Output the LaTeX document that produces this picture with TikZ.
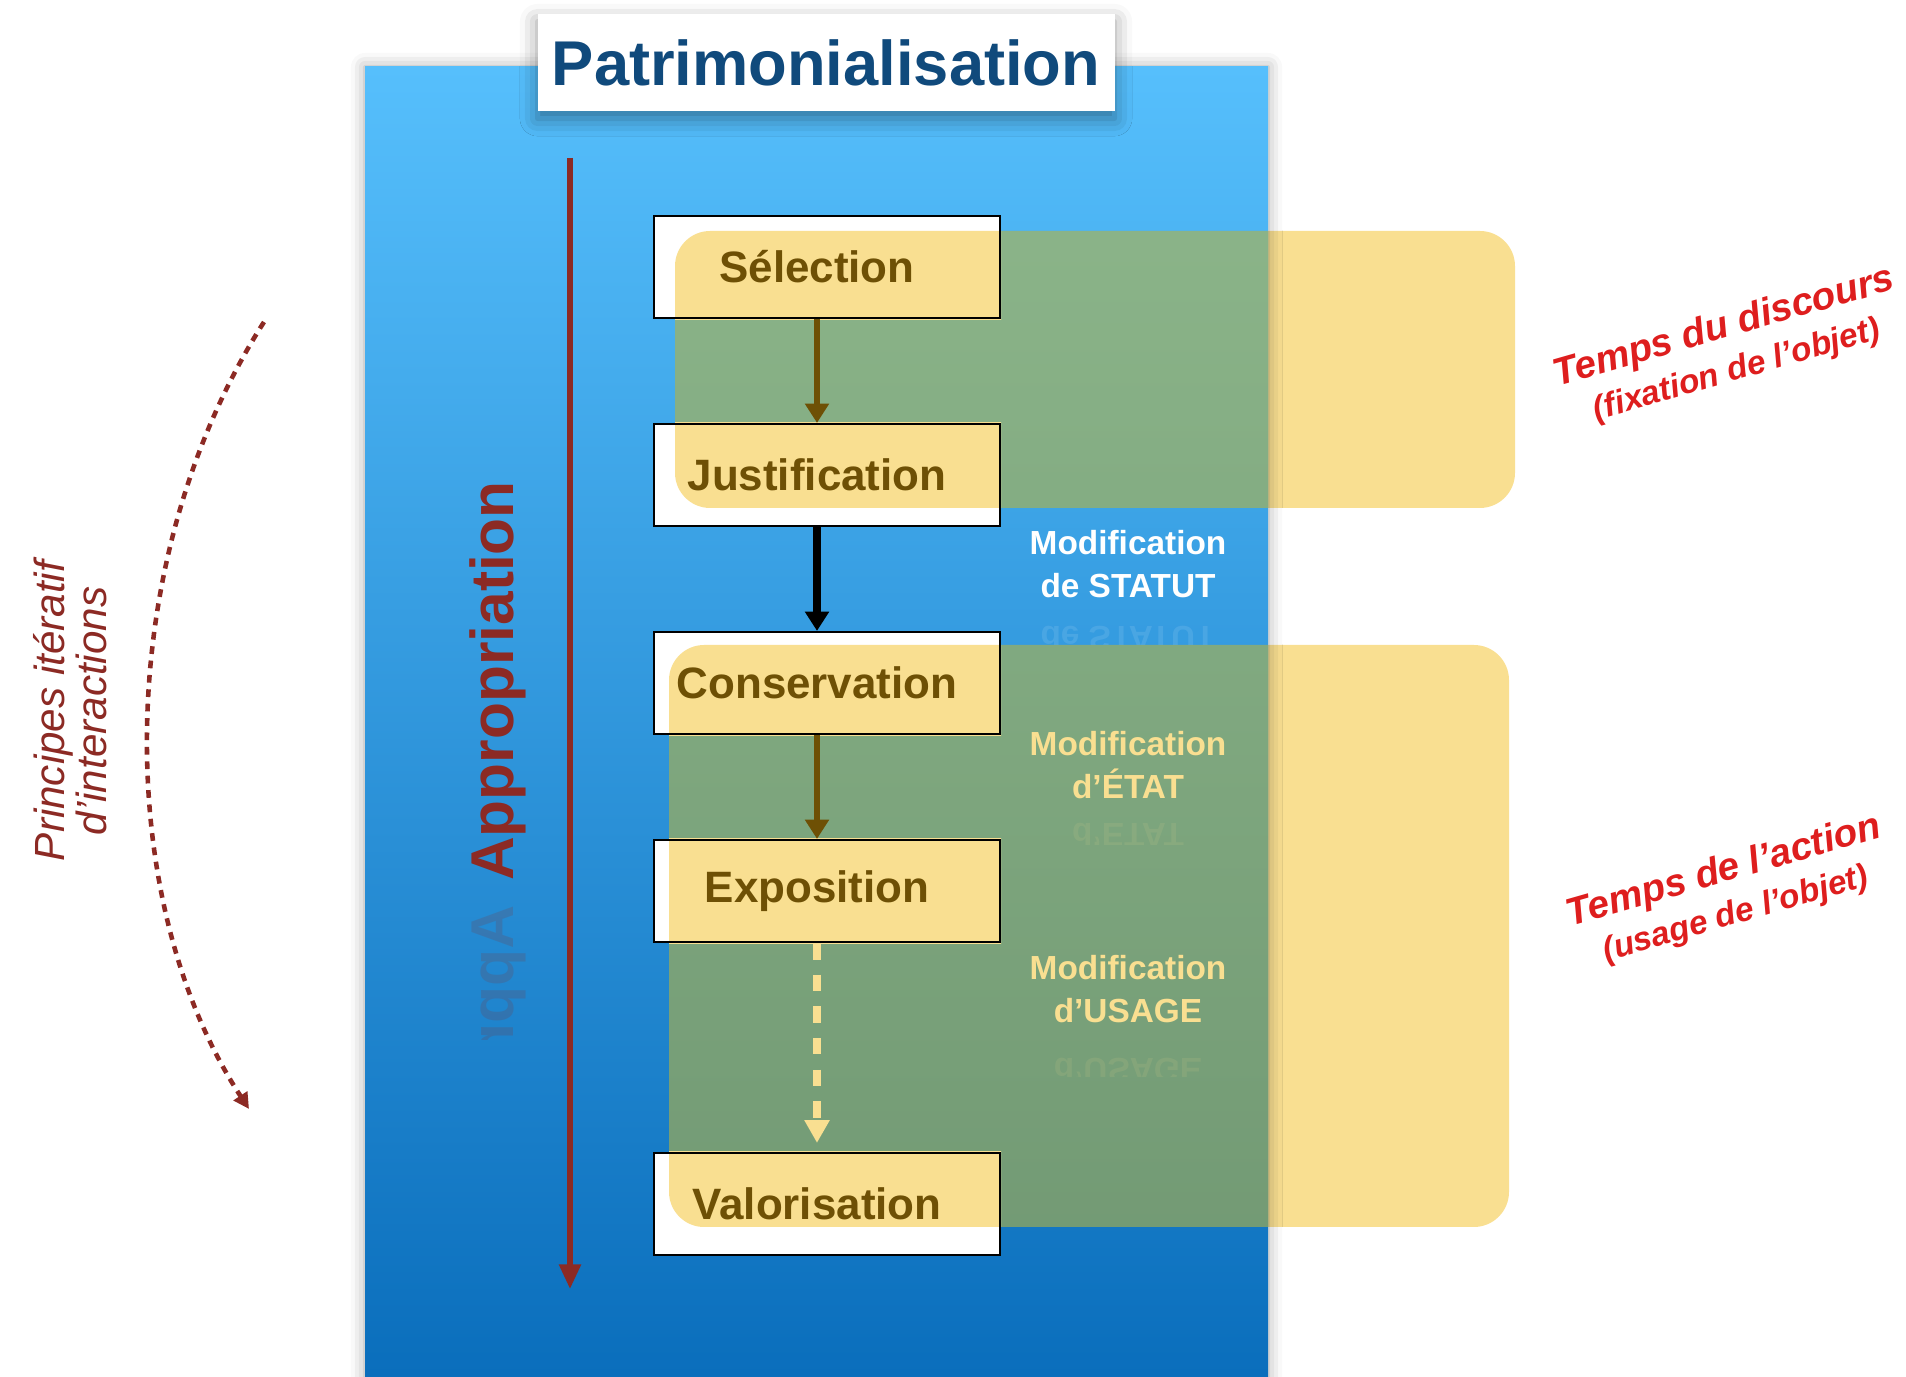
\documentclass[tikz,border=0pt]{standalone}
\usepackage{fontspec}
\setmainfont{Liberation Sans}
\usetikzlibrary{arrows.meta,positioning,shadows.blur}
\definecolor{panelTop}{RGB}{86,191,252}
\definecolor{panelBot}{RGB}{10,110,188}
\definecolor{sand}{RGB}{249,223,145}
\definecolor{moss}{RGB}{180,179,65}
\definecolor{umber}{RGB}{110,80,5}
\definecolor{rust}{RGB}{140,42,36}
\definecolor{titleblue}{RGB}{16,74,124}
\definecolor{alert}{RGB}{222,30,30}
\pgfdeclarelayer{background}
\pgfsetlayers{background,main}
\tikzset{%
    stepbox/.style={%
        rectangle, draw=black, line width=0.6pt, minimum width=34.6mm, minimum height=10.2mm,
        text=umber, font=\fontsize{12.5}{12.5}\selectfont\bfseries
    },
    titlebox/.style={%
        rectangle, fill=white, minimum width=57.7mm, minimum height=9.7mm, text=titleblue,
        font=\fontsize{18}{18}\selectfont\bfseries,
        blur shadow={shadow xshift=0pt, shadow yshift=-2pt, shadow blur radius=5pt, shadow opacity=40}
    },
    modif/.style={%
        align=center, font=\fontsize{9.5}{12}\selectfont\bfseries
    },
    flow/.style={%
        -{Triangle[length=5.5pt,width=6.6pt]}, line width=1.8pt, draw=umber
    },
    phase/.style={%
        text=alert, rotate=16, font=\fontsize{11}{11}\selectfont\bfseries\itshape
    },
    phasenote/.style={%
        text=alert, rotate=16, font=\fontsize{9.5}{9.5}\selectfont\bfseries\itshape
    },
    zone/.style={%
        rounded corners=10pt
    },
}
\begin{document}
\begin{tikzpicture}[x=0.1mm,y=-0.1mm]
  \useasboundingbox (0,0) rectangle (1906,1377);

  % etapes
  \foreach \name/\y/\txt in {sel/267/Sélection,jus/475/Justification,con/683/Conservation,exp/891/Exposition,val/1204/Valorisation}
    \node[stepbox] (\name) at (827,\y) {\txt\kern2mm};

  \draw[flow] ([xshift=-1mm]sel.south) -- ([xshift=-1mm]jus.north);
  \draw[flow, draw=black, line width=2pt] ([xshift=-1mm]jus.south) -- ([xshift=-1mm]con.north);
  \draw[flow] ([xshift=-1mm]con.south) -- ([xshift=-1mm]exp.north);
  \draw[flow, draw=sand, line width=2.2pt, dash pattern=on 4.7pt off 4.3pt, shorten >=0.9mm,
    -{Triangle[length=6.5pt,width=6.8pt]}] ([xshift=-1mm]exp.south) -- ([xshift=-1mm]val.north);

  \node[titlebox] (titre) at (826,63) {Patrimonialisation};

  % modifications
  \node[modif, text=white] (statut) at (1128,564) {Modification\\de STATUT};
  \node[modif, text=sand] (etat) at (1128,765) {Modification\\d’ÉTAT};
  \node[modif, text=sand] (usage) at (1128,989) {Modification\\d’USAGE};
  \begin{scope}[opacity=0.1]
    \clip (1030,620) rectangle (1230,645);
    \node[modif, text=white, yscale=-1] at (1128,638) {de STATUT};
  \end{scope}
  \begin{scope}[opacity=0.1]
    \clip (1030,822) rectangle (1230,845);
    \node[modif, text=sand, yscale=-1] at (1128,838) {d’ÉTAT};
  \end{scope}
  \begin{scope}[opacity=0.1]
    \clip (1030,1054) rectangle (1230,1077);
    \node[modif, text=sand, yscale=-1] at (1128,1070) {d’USAGE};
  \end{scope}

  % appropriation
  \node[rotate=90, text=rust, font=\fontsize{17.2}{17.2}\selectfont\bfseries] (appro) at (498,681) {Appropriation};
  \begin{scope}
    \clip (430,881) rectangle (560,1040);
    \node[rotate=90, xscale=-1, anchor=west, text=rust, opacity=0.18, font=\fontsize{17.2}{17.2}\selectfont\bfseries] at (appro.west) {Appropriation};
  \end{scope}
  \coordinate (haut) at (570,158);
  \coordinate (bas) at (570,1289);
  \draw[rust, line width=1.5pt, -{Triangle[length=7pt,width=6pt]}] (haut) -- (bas);

  % iterations
  \coordinate (arcdebut) at (264,322);
  \coordinate (arcfin) at (249,1109);
  \draw[rust, line width=1.3pt, dash pattern=on 2.2pt off 1.9pt, -{Triangle[length=4.5pt,width=4.5pt]}] (arcdebut) .. controls (112,560) and (112,900) .. (arcfin);
  \node[rotate=90, align=center, text=rust, font=\fontsize{12}{12}\selectfont\itshape] (principes) at (70,711) {Principes itératif\\d’interactions};

  % temps
  \node[phase] (discours) at (1724,328) {Temps du discours};
  \node[phasenote] (fixation) at (1737,371) {(fixation de l’objet)};
  \node[phase] (action) at (1724,872) {Temps de l’action};
  \node[phasenote] (usageobjet) at (1736,915) {(usage de l’objet)};

  \begin{pgfonlayer}{background}
    \fill[sand, zone] (675,231) rectangle (1515,508);
    \fill[sand, zone] (669,645) rectangle (1509,1227);
    \fill[top color=panelTop, bottom color=panelBot,
      blur shadow={shadow xshift=0pt, shadow yshift=0pt, shadow blur radius=4pt, shadow opacity=35}]
      (365,67) rectangle (1268,1377);
    \begin{scope}
      \clip (365,67) rectangle (1268,1377);
      \fill[moss, opacity=0.6, zone] (675,231) rectangle (1515,508);
      \fill[moss, opacity=0.6, zone] (669,645) rectangle (1509,1227);
    \end{scope}
    \foreach \name in {sel,jus,con,exp,val} {
      \fill[white] (\name.north west) rectangle (\name.south east);
      \begin{scope}
        \clip (\name.north west) rectangle (\name.south east);
        \fill[sand, zone] (675,231) rectangle (1515,508);
        \fill[sand, zone] (669,645) rectangle (1509,1227);
      \end{scope}
    }
  \end{pgfonlayer}
\end{tikzpicture}
\end{document}
